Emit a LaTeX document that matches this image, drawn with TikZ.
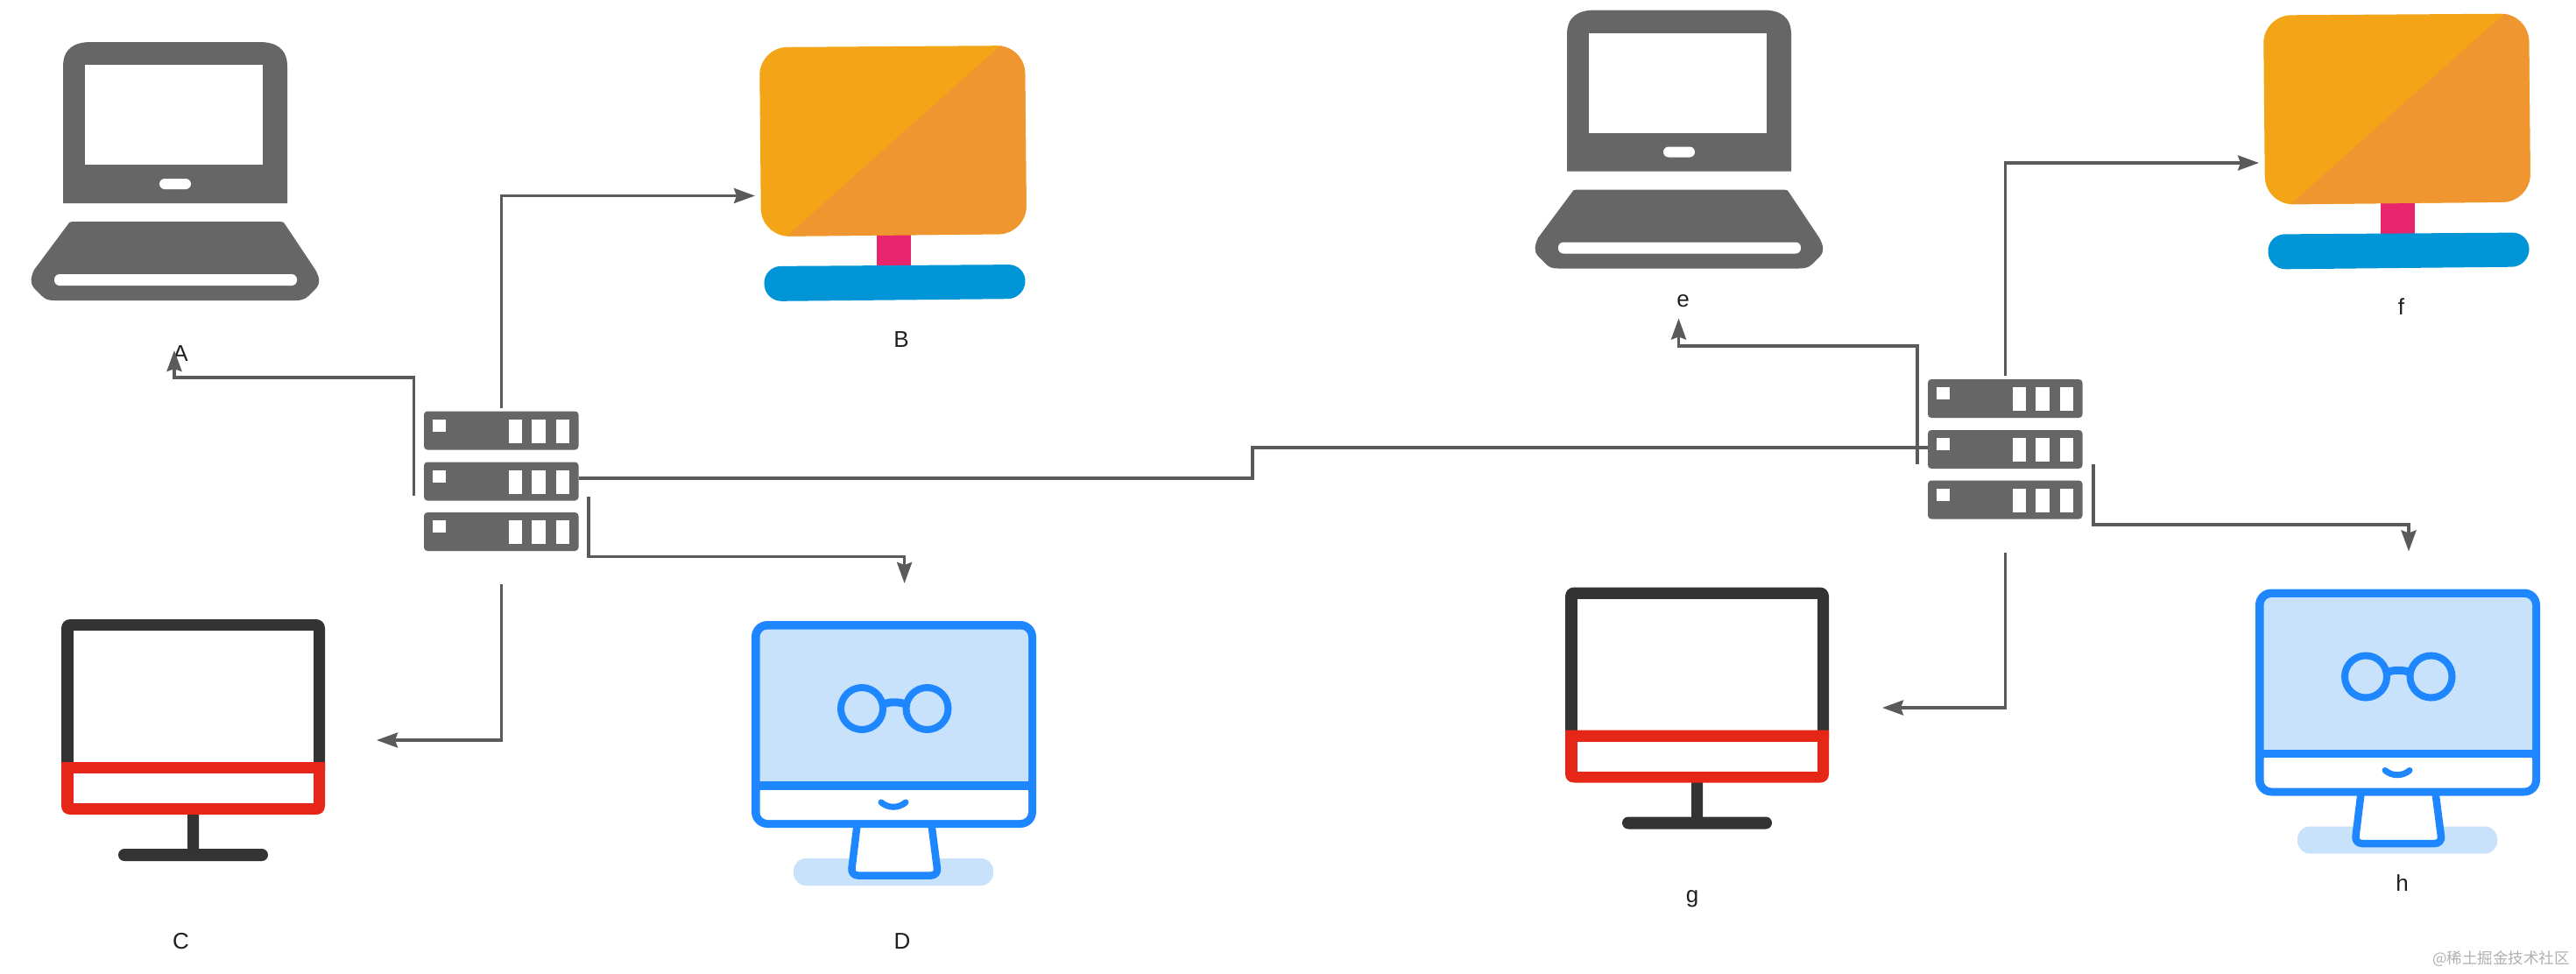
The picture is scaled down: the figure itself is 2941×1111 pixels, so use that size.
\documentclass[tikz,border=0pt]{standalone}
\usepackage{fontspec}
\setmainfont{Liberation Sans}
\newfontfamily\cjkfont{Noto Sans CJK SC}
\usetikzlibrary{arrows.meta}
\definecolor{icongray}{HTML}{666666}
\definecolor{linkgray}{HTML}{5A5A5A}
\definecolor{darkframe}{HTML}{333333}
\definecolor{redframe}{HTML}{E62617}
\definecolor{orangeA}{HTML}{F4A517}
\definecolor{orangeB}{HTML}{EF9630}
\definecolor{pinkneck}{HTML}{E7246C}
\definecolor{bluefoot}{HTML}{0095D7}
\definecolor{bluestroke}{HTML}{1E87FF}
\definecolor{bluelight}{HTML}{C8E2FC}
\definecolor{marktext}{HTML}{B0B0B0}
\tikzset{
  srvunit/.style={fill=icongray,rounded corners=4pt,inner sep=0pt,minimum width=176.5pt,minimum height=44pt},
  lbl/.style={inner sep=0pt,anchor=base,text=black!88,font=\fontsize{26}{30}\selectfont},
  link/.style={draw=linkgray,line width=3.5pt,line join=miter},
  arrowlink/.style={link,-{Stealth[length=24pt,width=17pt,inset=3pt]}},
  laptop/.pic={
    \fill[icongray] (72,232) -- (72,76) .. controls (72,56) and (84,48) .. (104,48) -- (296,48)
      .. controls (316,48) and (328,56) .. (328,76) -- (328,232) -- cycle;
    \fill[white] (97,74) rectangle (300,188);
    \fill[white,rounded corners=6pt] (182,204) rectangle (218,216);
    \fill[icongray] (77,257) .. controls (78,254) and (80,253) .. (83,253) -- (320,253)
      .. controls (323,253) and (325,254) .. (326,257) -- (360,308)
      .. controls (365,317) and (366,323) .. (361,329) -- (352,338)
      .. controls (348,342) and (343,343) .. (337,343) -- (62,343)
      .. controls (56,343) and (52,342) .. (48,338) -- (39,329)
      .. controls (34,323) and (35,317) .. (39,308) -- cycle;
    \fill[white,rounded corners=6pt] (62,313) rectangle (339,326);
  },
  server/.pic={
    \node[srvunit] (-u1) at (572.25,491.5) {};
    \node[srvunit] (-u2) at (572.25,549.5) {};
    \node[srvunit] (-u3) at (572.25,607) {};
    \foreach \t in {469.5,527.5,585} {
      \fill[white] (494,\t+9) rectangle (509,\t+23);
      \fill[white] (581,\t+9) rectangle (596,\t+36);
      \fill[white] (607,\t+9) rectangle (623,\t+36);
      \fill[white] (635,\t+9) rectangle (650,\t+36);
    }
  },
  orangepc/.pic={
    \fill[pinkneck] (1001,266) rectangle (1040,304);
    \fill[bluefoot,rounded corners=19.5pt] (872,304) -- (1171,302) -- (1170,341) -- (873,344) -- cycle;
    \begin{scope}
      \clip[rounded corners=32pt] (867,54) -- (1170,52) -- (1172,267) -- (869,270) -- cycle;
      \fill[orangeA] (860,45) rectangle (1180,277);
      \fill[orangeB] (1150,45) -- (890,277) -- (1180,277) -- (1180,45) -- cycle;
    \end{scope}
  },
  redpc/.pic={
    \fill[darkframe,rounded corners=3pt] (214,920) rectangle (227,972);
    \fill[darkframe,rounded corners=7pt] (135,969) rectangle (306,983);
    \fill[darkframe,rounded corners=10pt] (70,707) rectangle (371,890);
    \fill[white] (83.5,720) rectangle (358,880);
    \fill[redframe] (70,870) -- (70,920) .. controls (70,926) and (74,930) .. (80,930) -- (361,930)
      .. controls (367,930) and (371,926) .. (371,920) -- (371,870) -- cycle;
    \fill[white] (83.5,883) rectangle (358,917);
  },
  bluepc/.pic={
    \fill[bluelight,rounded corners=14pt] (906,980) rectangle (1134,1011);
    \draw[bluestroke,fill=white,line width=8.5pt,rounded corners=8pt]
      (980,930) -- (971.5,999.5) -- (1071,999.5) -- (1062,930);
    \fill[bluestroke,rounded corners=18pt] (858,709) rectangle (1183,945);
    \fill[bluelight,rounded corners=9pt] (867.5,718.5) rectangle (1174,900);
    \fill[white,rounded corners=9pt] (867.5,895) rectangle (1174,936);
    \fill[bluestroke] (860,892) rectangle (1181,901.5);
    \draw[bluestroke,line width=8pt] (984,809) circle[radius=24pt];
    \draw[bluestroke,line width=8pt] (1058.5,809) circle[radius=24pt];
    \draw[bluestroke,line width=9pt] (1009,804) .. controls (1016,801) and (1026,801) .. (1034,804);
    \draw[bluestroke,line width=7pt,line cap=round] (1006,916) .. controls (1014,923) and (1026,923) .. (1034,916);
  }
}
\begin{document}
\begin{tikzpicture}[x=1pt,y=-1pt]
  \useasboundingbox (0,0) rectangle (2941,1111);
  \fill[white] (0,0) rectangle (2941,1111);

  % left group
  \pic (iconA) at (0,0) {laptop};
  \pic (iconB) at (0,0) {orangepc};
  \pic (iconC) at (0,0) {redpc};
  \pic (iconD) at (0,0) {bluepc};
  \pic (L) at (0,0) {server};

  % right group
  \pic (iconE) at (1717,-36.5) {laptop};
  \pic (iconF) at (1717,-36.5) {orangepc};
  \pic (iconG) at (1717,-36.5) {redpc};
  \pic (iconH) at (1717,-36.5) {bluepc};
  \pic (R) at (1717,-36.5) {server};

  % labels
  \node[lbl] (labA) at (206,412.5) {A};
  \node[lbl] (labB) at (1029,396) {B};
  \node[lbl] (labC) at (206.5,1083) {C};
  \node[lbl] (labD) at (1030,1083) {D};
  \node[lbl] (labE) at (1921.5,350.5) {e};
  \node[lbl] (labF) at (2741.5,359.5) {f};
  \node[lbl] (labG) at (1932,1030) {g};
  \node[lbl] (labH) at (2742.5,1017) {h};
  \node[inner sep=0pt,anchor=east,text=marktext,font=\fontsize{17.5}{20}\selectfont\cjkfont] (mark) at (2934,1095) {@稀土掘金技术社区};

  % connector points, left
  \coordinate (aFrom) at (472.6,566);
  \coordinate (aBend) at (199,431);
  \coordinate (aTip) at (199,400);
  \coordinate (bTip) at (862,223.5);
  \coordinate (cTip) at (430,845);
  \coordinate (dFrom) at (672,567);
  \coordinate (dBend) at (1032.6,635.5);
  \coordinate (dTip) at (1032.6,666);
  % connector points, trunk
  \coordinate (trunkBendA) at (1430,546);
  \coordinate (trunkBendB) at (1430,511);
  % connector points, right
  \coordinate (eFrom) at (2189,530);
  \coordinate (eBend) at (1916.5,395);
  \coordinate (eTip) at (1916.5,363.5);
  \coordinate (fTip) at (2579,186);
  \coordinate (gTip) at (2149,808);
  \coordinate (hFrom) at (2390,530);
  \coordinate (hBend) at (2750,599);
  \coordinate (hTip) at (2750,629.5);

  % connectors
  \draw[arrowlink] (aFrom) |- (aBend) -- (aTip);
  \draw[arrowlink] ([yshift=3.5pt]L-u1.north) |- (bTip);
  \draw[arrowlink] ([yshift=-38pt]L-u3.south) |- (cTip);
  \draw[arrowlink] (dFrom) |- (dBend) -- (dTip);
  \draw[link] ([yshift=3.5pt]L-u2.east) -- (trunkBendA) -- (trunkBendB) -- ([yshift=2pt]R-u2.west);
  \draw[arrowlink] (eFrom) |- (eBend) -- (eTip);
  \draw[arrowlink] ([yshift=3.5pt]R-u1.north) |- (fTip);
  \draw[arrowlink] ([yshift=-38pt]R-u3.south) |- (gTip);
  \draw[arrowlink] (hFrom) |- (hBend) -- (hTip);
\end{tikzpicture}
\end{document}
